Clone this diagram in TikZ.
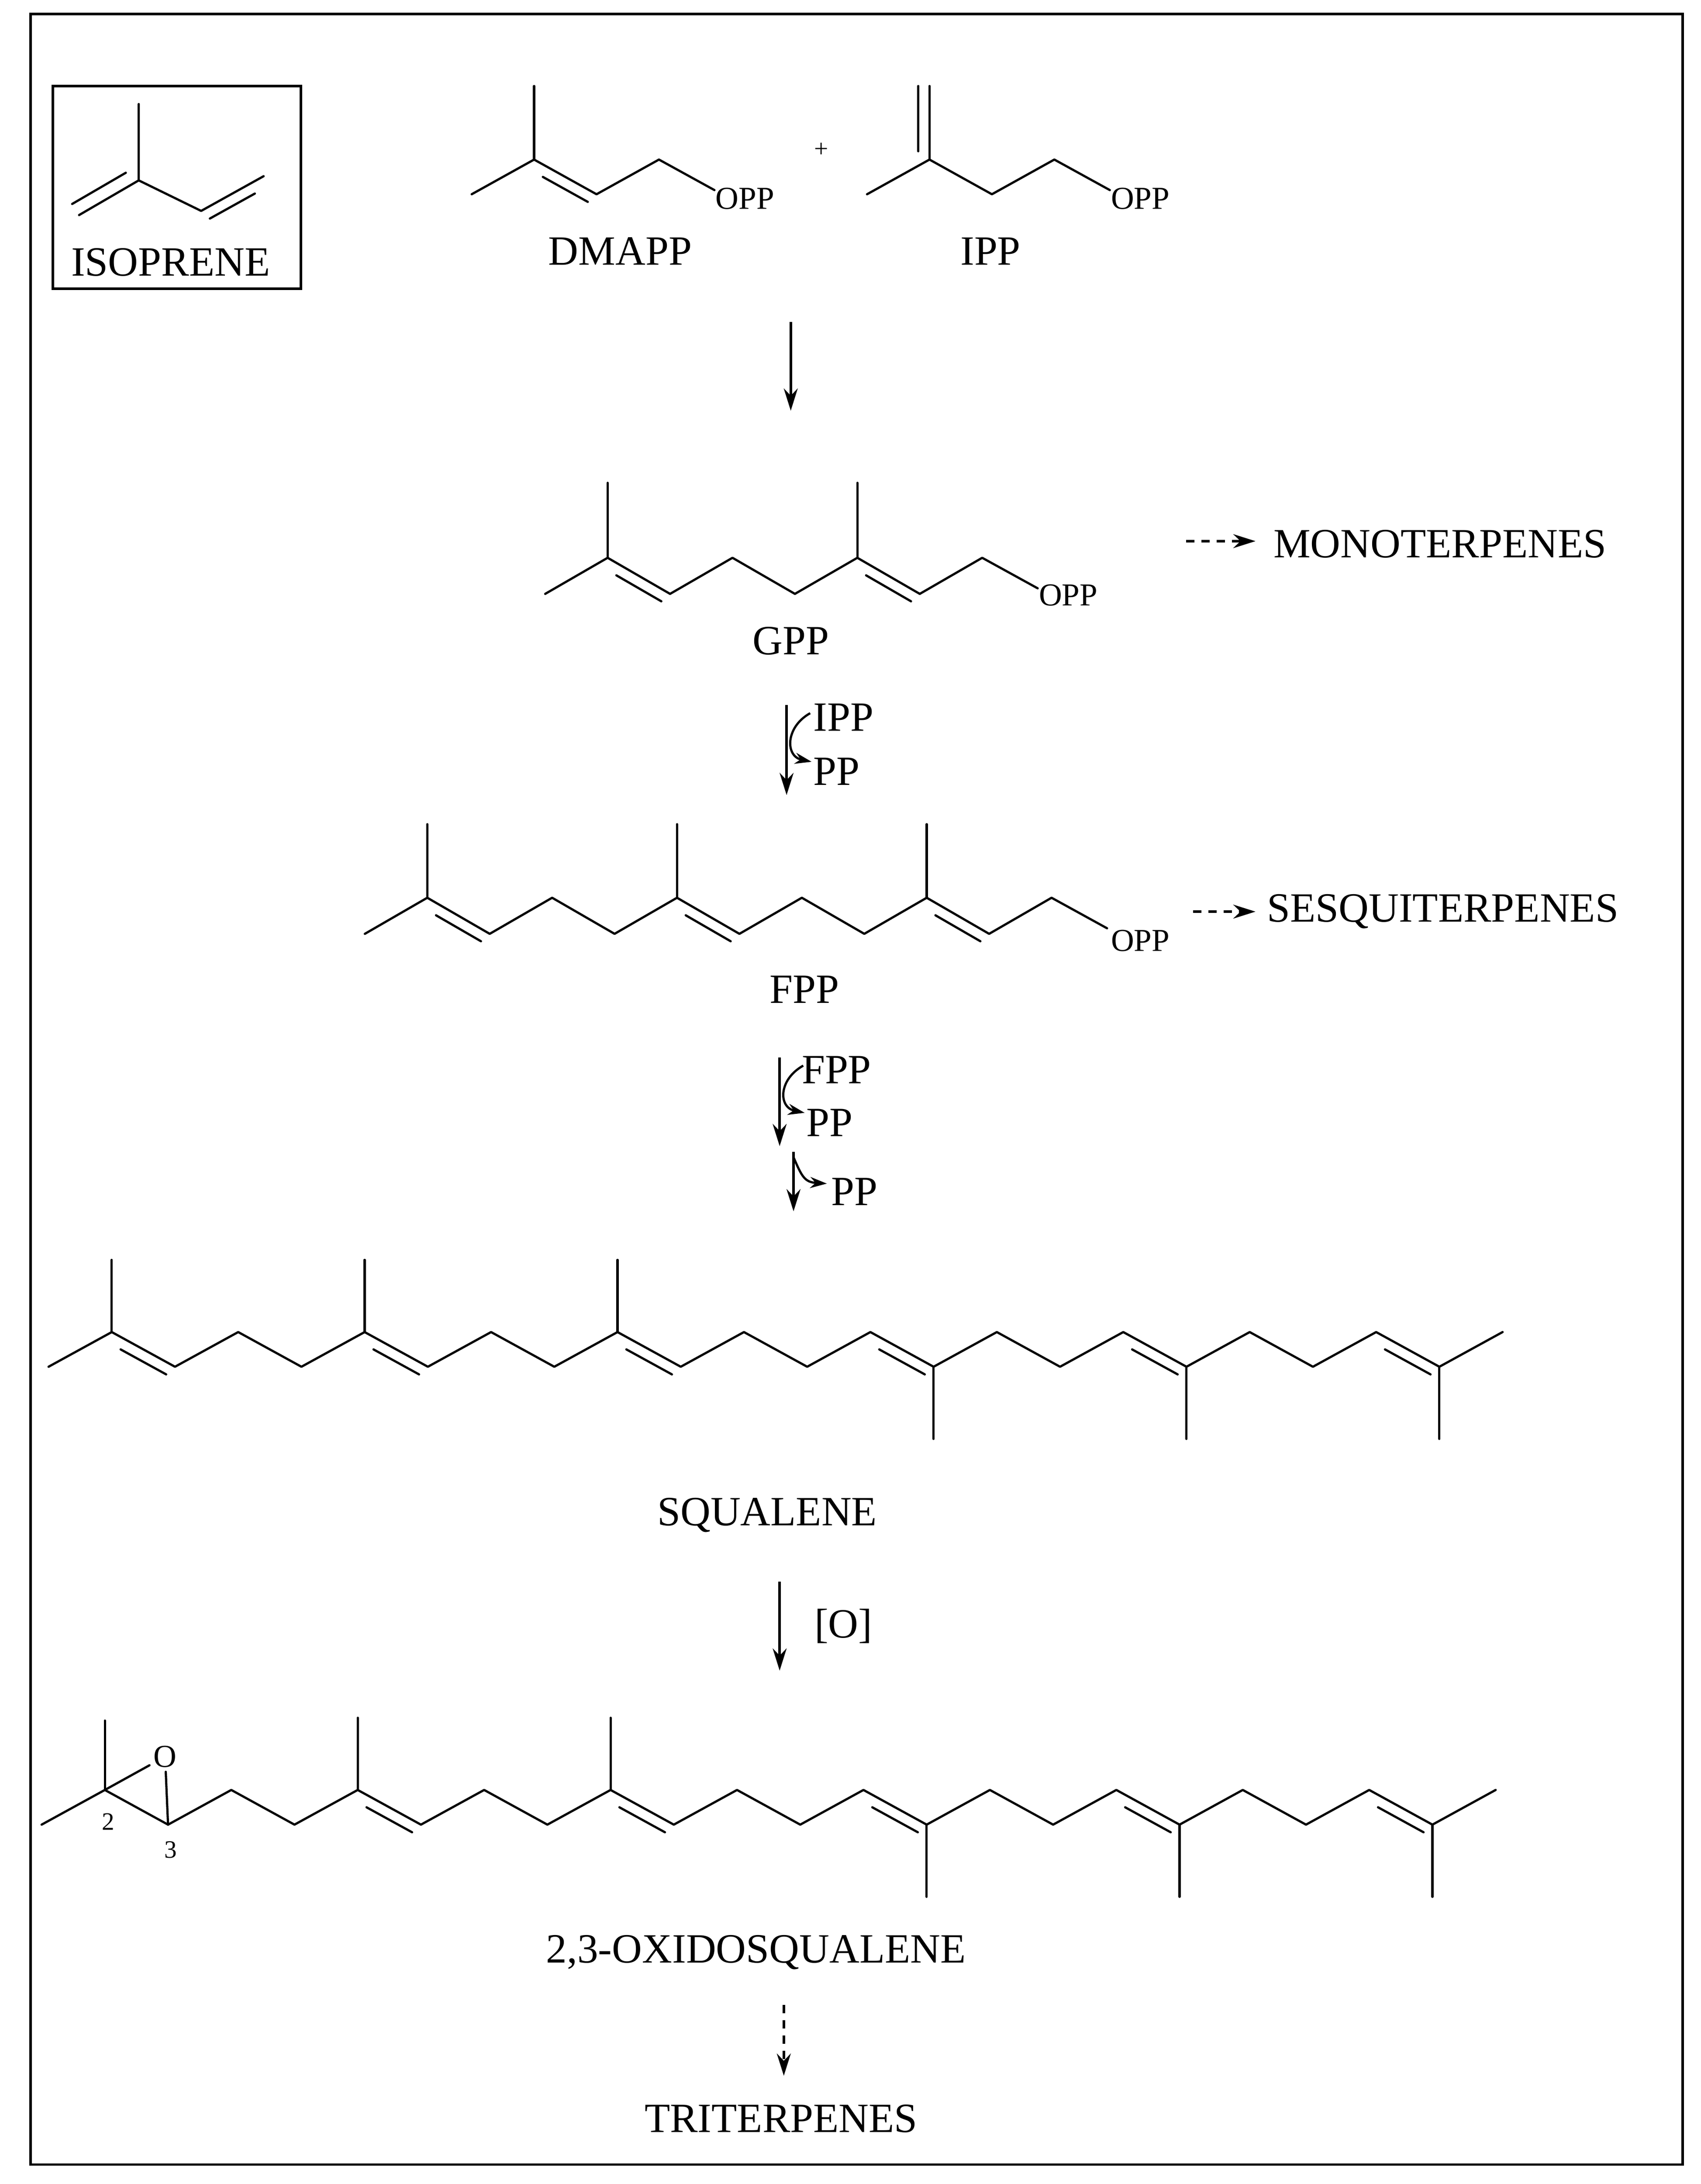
\documentclass[tikz,border=0pt]{standalone}
\usepackage{fontspec}
\setmainfont{Liberation Serif}
\usetikzlibrary{calc,arrows.meta}
\tikzset{bond/.style={line width=1.6pt,line cap=round,line join=round},
 lab/.style={font=\fontsize{30}{33}\selectfont,inner sep=1pt},
 opp/.style={font=\fontsize{23}{26}\selectfont,inner sep=1pt},
 small/.style={font=\fontsize{18}{20}\selectfont,inner sep=1pt},
 arr/.style={line width=1.8pt,-{Stealth[length=16pt,width=10pt]}},
 darr/.style={line width=1.8pt,dashed,dash pattern=on 6pt off 5pt,-{Stealth[length=16pt,width=10pt]}}}
\newcommand\dbond[2]{\draw[bond] ($(#1)!0.14!(#2)+(0,9)$) -- ($(#2)!0.14!(#1)+(0,9)$);}
\begin{document}
\begin{tikzpicture}[x=1pt,y=-1pt]
\useasboundingbox (0,0) rectangle (1226,1574);
\fill[white] (0,0) rectangle (1226,1574);
\draw[line width=1.8pt] (22,10) rectangle (1213,1560);
% isoprene
\draw[line width=1.8pt] (38,62) rectangle (217,208);
\coordinate (i1) at (100,75); \coordinate (i2) at (100,130); \coordinate (i0) at (57,155);
\coordinate (i3) at (145,152); \coordinate (i4) at (190,127);
\draw[bond] (i1)--(i2)--(i0); \draw[bond] (i2)--(i3)--(i4);
\draw[bond] ($(i2)!0.1!(i0)+(-5,-8)$)--($(i0)+(-5,-8)$);
\draw[bond] ($(i3)!0.14!(i4)+(0,9)$)--($(i4)!0.14!(i3)+(0,9)$);
\node[lab] (iso) at (123,189) {ISOPRENE};
% DMAPP
\coordinate (d0) at (340,140); \coordinate (d1) at (385,115); \coordinate (dm) at (385,62);
\coordinate (d2) at (430,140); \coordinate (d3) at (475,115); \coordinate (d4) at (515,137);
\draw[bond] (dm)--(d1); \draw[bond] (d0)--(d1)--(d2)--(d3)--(d4); \dbond{d1}{d2}
\node[opp] (dopp) at (537,143) {OPP};
\node[lab] (dmapp) at (447,181) {DMAPP};
\node[small] (plus) at (592,108) {+};
% IPP
\coordinate (p0) at (625,140); \coordinate (p1) at (670,115); \coordinate (pm) at (670,62);
\coordinate (p2) at (715,140); \coordinate (p3) at (760,115); \coordinate (p4) at (800,137);
\draw[bond] (pm)--(p1); \draw[bond] ($(pm)+(-8,0)$)--($(p1)+(-8,-6)$);
\draw[bond] (p0)--(p1)--(p2)--(p3)--(p4);
\node[opp] (popp) at (822,143) {OPP};
\node[lab] (ipp) at (714,181) {IPP};
\coordinate (a1s) at (570,232); \coordinate (a1e) at (570,296);
\draw[arr] (a1s)--(a1e);
% GPP
\foreach \i in {0,...,7} \coordinate (g\i) at ({393+45*\i},{ifthenelse(isodd(\i),402,428)});
\draw[bond] (g0)--(g1)--(g2)--(g3)--(g4)--(g5)--(g6)--(g7)--(748,424);
\draw[bond] (g1)--++(0,-54); \draw[bond] (g5)--++(0,-54);
\dbond{g1}{g2}\dbond{g5}{g6}
\node[opp] (gopp) at (770,429) {OPP};
\node[lab] (gpp) at (570,462) {GPP};
\coordinate (m1) at (855,390); \coordinate (m2) at (905,390);
\draw[darr] (m1)--(m2);
\node[lab] (mono) at (1038,392) {MONOTERPENES};
% arrow GPP->FPP
\coordinate (a2s) at (567,508); \coordinate (a2e) at (567,573);
\draw[arr] (a2s)--(a2e);
\node[lab] (ippl) at (608,517) {IPP};
\node[lab] (pp1) at (603,556) {PP};
\draw[line width=1.6pt,-{Stealth[length=12pt,width=8pt]}] (584,514) .. controls (566,524) and (566,545) .. (585,549);
% FPP
\foreach \i in {0,...,11} \coordinate (f\i) at ({263+45*\i},{ifthenelse(isodd(\i),647,673)});
\draw[bond] (f0)--(f1)--(f2)--(f3)--(f4)--(f5)--(f6)--(f7)--(f8)--(f9)--(f10)--(f11)--(798,669);
\foreach \i in {1,5,9} \draw[bond] (f\i)--++(0,-53);
\dbond{f1}{f2}\dbond{f5}{f6}\dbond{f9}{f10}
\node[opp] (fopp) at (822,678) {OPP};
\node[lab] (fpp) at (580,713) {FPP};
\coordinate (s1a) at (860,657); \coordinate (s1b) at (905,657);
\draw[darr] (s1a)--(s1b);
\node[lab] (sesq) at (1040,657) {SESQUITERPENES};
% arrows FPP->squalene
\coordinate (a3s) at (562,762); \coordinate (a3e) at (562,826);
\draw[arr] (a3s)--(a3e);
\node[lab] (fppl) at (603,771) {FPP};
\node[lab] (pp2) at (598,809) {PP};
\draw[line width=1.6pt,-{Stealth[length=12pt,width=8pt]}] (579,768) .. controls (561,778) and (561,798) .. (580,802);
\coordinate (a4s) at (572,830); \coordinate (a4e) at (572,873);
\draw[arr] (a4s)--(a4e);
\node[lab] (pp3) at (616,859) {PP};
\draw[line width=1.6pt,-{Stealth[length=12pt,width=8pt]}] (572,834) .. controls (578,848) and (580,852) .. (596,853);
% squalene
\foreach \i in {0,...,23} \coordinate (s\i) at ({35+45.57*\i},{ifthenelse(isodd(\i),960,985)});
\draw[bond] (s0) \foreach \i in {1,...,23}{--(s\i)};
\foreach \i in {1,5,9} \draw[bond] (s\i)--++(0,-52);
\foreach \i in {14,18,22} \draw[bond] (s\i)--++(0,52);
\dbond{s1}{s2}\dbond{s5}{s6}\dbond{s9}{s10}\dbond{s13}{s14}\dbond{s17}{s18}\dbond{s21}{s22}
\node[lab] (sq) at (553,1092) {SQUALENE};
\coordinate (a5s) at (562,1140); \coordinate (a5e) at (562,1204);
\draw[arr] (a5s)--(a5e);
\node[lab] (ox) at (608,1172) {[O]};
% oxidosqualene
\foreach \i in {0,...,23} \coordinate (o\i) at ({30+45.57*\i},{ifthenelse(isodd(\i),1290,1315)});
\draw[bond] (o0) \foreach \i in {1,...,23}{--(o\i)};
\draw[bond] (o1)--++(0,-50);
\foreach \i in {5,9} \draw[bond] (o\i)--++(0,-52);
\foreach \i in {14,18,22} \draw[bond] (o\i)--++(0,52);
\dbond{o5}{o6}\dbond{o9}{o10}\dbond{o13}{o14}\dbond{o17}{o18}\dbond{o21}{o22}
\node[opp] (oxo) at (119,1266) {O};
\draw[bond,shorten >=2pt] (o1)--(oxo); \draw[bond,shorten >=2pt] (o2)--(oxo);
\node[small] (n2) at (78,1313) {2};
\node[small] (n3) at (123,1333) {3};
\node[lab] (oxs) at (545,1407) {2,3-OXIDOSQUALENE};
\coordinate (a6s) at (565,1445); \coordinate (a6e) at (565,1496);
\draw[darr] (a6s)--(a6e);
\node[lab] (tri) at (563,1527) {TRITERPENES};
\end{tikzpicture}
\end{document}
